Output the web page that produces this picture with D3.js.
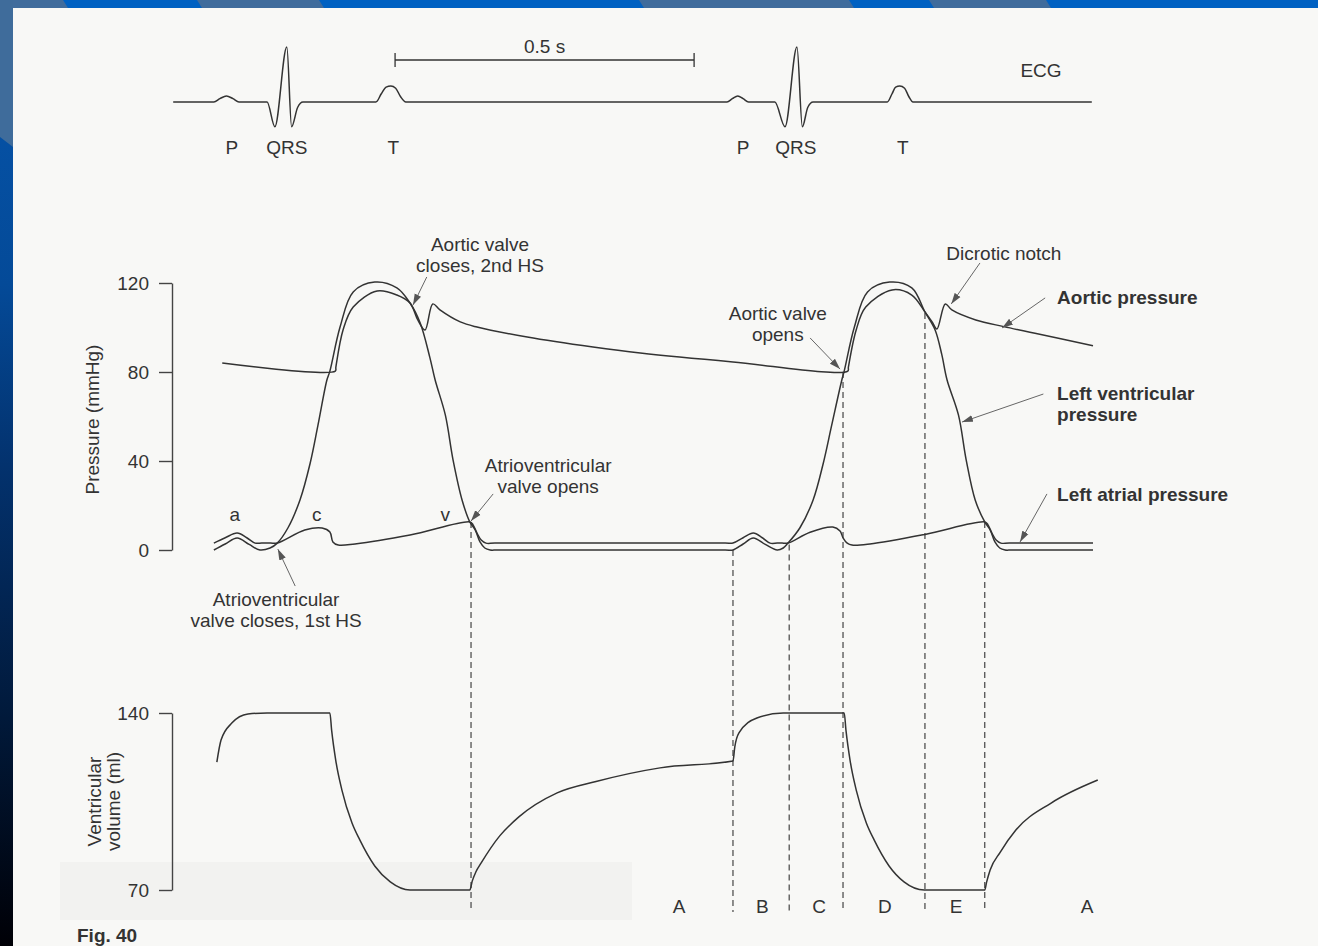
<!DOCTYPE html>
<html>
<head>
<meta charset="utf-8">
<script src="https://d3js.org/d3.v7.min.js"></script>
<style>
  body { margin: 0; background: #f8f8f6; }
  svg { display: block; font-family: "Liberation Sans", Arial, sans-serif; }
</style>
</head>
<body>
<script>
// all times are in ms (0 = pressure axis)

// ECG trace [ms, amplitude (R = 1)]
const ecgTrace = [
  [2, 0], [70, 0], [80, 0.06], [91, 0.11], [102, 0.06], [112, 0], [159, 0],
  [172, -0.45], [192, 1.0], [200, -0.45], [210, -0.1], [219, 0],
  [341, 0], [350, 0.15], [358, 0.27], [366, 0.29], [374, 0.25], [382, 0.1], [391, 0],
  [928, 0], [937, 0.06], [946, 0.11], [955, 0.06], [964, 0], [1008, 0],
  [1025, -0.45], [1045, 1.0], [1054, -0.45], [1063, -0.1], [1072, 0],
  [1196, 0], [1204, 0.15], [1210, 0.27], [1217, 0.29], [1225, 0.25], [1232, 0.1], [1239, 0],
  [1538, 0]
];
const ecgWaves = [["P", 100], ["QRS", 192], ["T", 370], ["P", 955], ["QRS", 1043], ["T", 1222]];
const scaleBar = [373, 873];   // 0.5 s

// pressures [ms, mmHg]
const aorticPressure = [
  [84, 84], [273, 80.4], [274, 82.2], [286, 98.9], [303, 109.2], [343, 116.4], [376, 114.6],
  [398, 111], [411, 103.4], [423, 98.9], [436, 110.6], [448, 107.9], [482, 102.5], [510, 100.2],
  [594, 95.7], [704, 91.2], [783, 88.5], [938, 84.5], [1130, 80.4], [1131, 82.2], [1144, 98.9],
  [1160, 109.2], [1204, 116.9], [1237, 114.6], [1259, 107], [1271, 102.5], [1279, 99.3],
  [1293, 110.6], [1304, 107.9], [1344, 103.4], [1391, 100.4], [1443, 97.4], [1540, 91.8]
];
const ventricularPressure = [
  [70, 0], [89, 2.7], [109, 5.4], [129, 2.5], [147, 0], [164, 0.9], [176, 3.1], [194, 10],
  [214, 22.5], [231, 39], [244, 56], [259, 76.4], [264, 80.4], [281, 100.2], [303, 116],
  [339, 120.4], [376, 117.8], [398, 111], [415, 102], [431, 86.7], [440, 76.4], [457, 60.7],
  [470, 40.4], [485, 22.5], [498, 12.6], [507, 9], [515, 3.6], [523, 0.9], [532, 0], [545, 0],
  [925, 0], [938, 0],
  [955, 2.7], [972, 5.4], [992, 2.5], [1012, 0], [1022, 0.9], [1030, 3.1], [1050, 10],
  [1072, 22.5], [1089, 39], [1103, 56], [1120, 76.4], [1124, 80.4], [1141, 100.2], [1163, 116],
  [1200, 120.4], [1237, 117.8], [1259, 107], [1276, 98.9], [1287, 88], [1296, 76.4],
  [1315, 60.7], [1328, 40.4], [1343, 22.5], [1359, 12.6], [1368, 9], [1376, 3.6], [1384, 0.9],
  [1393, 0], [1405, 0], [1540, 0]
];
const atrialPressure = [
  [70, 3.1], [89, 5.5], [109, 7.6], [125, 5.5], [139, 3.1], [150, 3.1], [165, 3.1], [176, 3.1],
  [222, 9], [251, 9.9], [264, 8.1], [269, 3.6], [278, 2.2], [306, 2.7], [398, 6.7], [498, 12.6],
  [503, 11.5], [510, 7.6], [517, 4.5], [525, 3.1], [540, 3.1], [925, 3.1], [938, 3.1],
  [955, 5.5], [972, 7.6], [987, 5.5],
  [1000, 3.1], [1012, 3.1], [1020, 3.1], [1030, 3.1], [1067, 8], [1105, 10.3], [1117, 8.5],
  [1122, 5.5], [1129, 3.1],
  [1137, 2.2], [1167, 2.7], [1259, 7], [1359, 12.6], [1364, 11.5], [1371, 7.6], [1378, 4.5],
  [1386, 3.1], [1400, 3.1], [1540, 3.1]
];
const pressureTicks = [0, 40, 80, 120];

// ventricular volume [ms, ml]
const ventricularVolume = [
  [75, 120.6], [82, 129.3], [100, 136], [127, 139.6], [159, 140], [264, 140], [267, 133],
  [274, 121], [284, 109.6], [301, 96.5], [314, 89.8], [339, 79.5], [365, 73.2], [398, 70],
  [498, 70], [502, 73.5], [508, 77.1], [517, 80.7], [548, 91.4], [580, 98.9], [644, 108.4],
  [709, 112.9], [816, 118.3], [938, 121], [941, 126.5], [948, 132.1], [978, 138], [1022, 140],
  [1124, 140], [1127, 133], [1134, 121], [1144, 109.6], [1161, 96.5], [1174, 89.8],
  [1199, 79.5], [1224, 73.2], [1258, 70], [1359, 70], [1362, 73], [1368, 77.9], [1385, 85],
  [1411, 93.7], [1470, 104.4], [1548, 113.5]
];
const volumeTicks = [70, 140];

// phase boundaries: time, pressure where the dashed line starts
const phaseLines = [[500, 12.6], [938, 0], [1032, 2.5], [1122, 80], [1259, 106.5], [1359, 12.6]];
const phaseBottom = 61.3; // ml
const phaseLabels = [["A", 848], ["B", 987], ["C", 1082], ["D", 1192], ["E", 1311], ["A", 1530]];

// pressure annotations: text anchor (ms, mmHg), arrow from -> to
const pressureNotes = [
  {lines: ["Aortic valve", "closes, 2nd HS"], at: [515, 134.4], from: [426, 122.7], to: [403, 110.1]},
  {lines: ["Atrioventricular", "valve opens"], at: [629, 35.1], from: [537, 25.2], to: [500, 13.0]},
  {lines: ["Atrioventricular", "valve closes, 1st HS"], at: [174, -25.2], from: [206, -16.2], to: [177, 0.4]},
  {lines: ["Aortic valve", "opens"], at: [1013, 103.4], from: [1067, 95.3], to: [1117, 81.3]},
  {lines: ["Dicrotic notch"], at: [1391, 130.3], from: [1351, 129], to: [1303, 110.6]},
  {lines: ["Aortic pressure"], at: [1480, 110.6], from: [1460, 113.3], to: [1388, 99.8], bold: true},
  {lines: ["Left ventricular", "pressure"], at: [1480, 67.4], from: [1457, 70.1], to: [1321, 57.5], bold: true},
  {lines: ["Left atrial pressure"], at: [1480, 22], from: [1463, 25.2], to: [1418, 3.6], bold: true}
];
const atrialWaves = [["a", 105], ["c", 242], ["v", 457]];

const W = 1318, H = 946;
const ink = "#333", fontSize = 19;

const svg = d3.select("body").append("svg").attr("width", W).attr("height", H);
const defs = svg.append("defs");

// --- slide frame ---
const lg = defs.append("linearGradient").attr("id", "leftGrad").attr("x1", 0).attr("y1", 0).attr("x2", 0).attr("y2", 1);
[[0, "#0656ad"], [0.3, "#044a98"], [0.5, "#03316c"], [0.75, "#011a3c"], [1, "#000006"]]
  .forEach(s => lg.append("stop").attr("offset", s[0]).attr("stop-color", s[1]));
svg.append("rect").attr("width", W).attr("height", H).attr("fill", "#f8f8f6");
svg.append("rect").attr("x", 0).attr("y", 0).attr("width", 13).attr("height", H).attr("fill", "url(#leftGrad)");
svg.append("polygon").attr("points", "0,0 13,0 13,147 0,137").attr("fill", "#3f6c9b");
svg.append("rect").attr("x", 0).attr("y", 0).attr("width", W).attr("height", 8).attr("fill", "#0061c2");
[[0, 63], [197, 319], [639, 849], [929, 1046]].forEach(b => {
  svg.append("polygon")
    .attr("points", `${b[0]},0 ${b[1]},0 ${b[1] + 5},8 ${b[0] + 5},8`)
    .attr("fill", "#406c9c");
});
svg.append("rect").attr("x", 0).attr("y", 0).attr("width", 13).attr("height", 8).attr("fill", "#3f6c9b");
svg.append("rect").attr("x", 60).attr("y", 862).attr("width", 572).attr("height", 58).attr("fill", "#f2f2f0");

defs.append("marker").attr("id", "head")
  .attr("markerUnits", "userSpaceOnUse")
  .attr("markerWidth", 12).attr("markerHeight", 8)
  .attr("refX", 11).attr("refY", 4).attr("orient", "auto")
  .append("path").attr("d", "M0,0.5 L11,4 L0,7.5 Z").attr("fill", "#555");

// --- scales ---
const x = d3.scaleLinear().domain([0, 1540]).range([172, 1093]);
const yEcg = d3.scaleLinear().domain([0, 1]).range([102, 47]);
const yP = d3.scaleLinear().domain([0, 120]).range([550, 283]);
const yV = d3.scaleLinear().domain([70, 140]).range([890, 713]);

function drawTrace(data, ys, curve) {
  const line = d3.line().x(d => x(d[0])).y(d => ys(d[1])).curve(curve);
  svg.append("path").datum(data)
    .attr("fill", "none").attr("stroke", ink).attr("stroke-width", 1.5)
    .attr("stroke-linejoin", "round")
    .attr("d", line);
}

function label(txt, px, py, opts = {}) {
  return svg.append("text").attr("x", px).attr("y", py)
    .attr("text-anchor", opts.anchor || "middle")
    .attr("font-size", fontSize)
    .attr("font-weight", opts.bold ? "bold" : null)
    .attr("fill", ink).text(txt);
}

// --- ECG ---
drawTrace(ecgTrace, yEcg, d3.curveMonotoneX);
ecgWaves.forEach(w => label(w[0], x(w[1]), yEcg(-0.945)));
label("ECG", x(1453), yEcg(0.455));
const barY = yEcg(0.764);
svg.append("path")
  .attr("d", `M${x(scaleBar[0])},${barY - 7}V${barY + 7}M${x(scaleBar[0])},${barY}H${x(scaleBar[1])}M${x(scaleBar[1])},${barY - 7}V${barY + 7}`)
  .attr("stroke", ink).attr("stroke-width", 1.3).attr("fill", "none");
label("0.5 s", x((scaleBar[0] + scaleBar[1]) / 2), yEcg(0.89));

// --- axes ---
function styleAxis(g) {
  g.select(".domain").attr("stroke", "#444").attr("stroke-width", 1.4);
  g.selectAll(".tick line").attr("stroke", "#444").attr("stroke-width", 1.4);
  g.selectAll(".tick text").attr("font-size", fontSize).attr("fill", ink)
    .attr("font-family", "Liberation Sans, Arial, sans-serif");
}
svg.append("g").attr("transform", `translate(${x(0)},0)`)
  .call(d3.axisLeft(yP).tickValues(pressureTicks).tickSize(13).tickSizeOuter(0).tickPadding(10))
  .call(styleAxis);
svg.append("g").attr("transform", `translate(${x(0)},0)`)
  .call(d3.axisLeft(yV).tickValues(volumeTicks).tickSize(13).tickSizeOuter(0).tickPadding(10))
  .call(styleAxis);

svg.append("text").attr("transform", `translate(99,${(yP(0) + yP(120)) / 2 + 3}) rotate(-90)`)
  .attr("text-anchor", "middle").attr("font-size", fontSize).attr("fill", ink).text("Pressure (mmHg)");
svg.append("text").attr("transform", `translate(101,${(yV(70) + yV(140)) / 2}) rotate(-90)`)
  .attr("text-anchor", "middle").attr("font-size", fontSize).attr("fill", ink).text("Ventricular");
svg.append("text").attr("transform", `translate(120,${(yV(70) + yV(140)) / 2}) rotate(-90)`)
  .attr("text-anchor", "middle").attr("font-size", fontSize).attr("fill", ink).text("volume (ml)");

// --- phase lines ---
phaseLines.forEach(p => {
  svg.append("line")
    .attr("x1", x(p[0])).attr("x2", x(p[0]))
    .attr("y1", yP(p[1])).attr("y2", yV(phaseBottom))
    .attr("stroke", "#444").attr("stroke-width", 1.2).attr("stroke-dasharray", "6,4");
});
phaseLabels.forEach(p => label(p[0], x(p[1]), yV(phaseBottom) + 1));

// --- pressure and volume traces ---
const smooth = d3.curveCatmullRom.alpha(0.5);
drawTrace(aorticPressure, yP, smooth);
drawTrace(ventricularPressure, yP, smooth);
drawTrace(atrialPressure, yP, smooth);
drawTrace(ventricularVolume, yV, d3.curveMonotoneX);

atrialWaves.forEach(w => label(w[0], x(w[1]), yP(13)));

pressureNotes.forEach(n => {
  n.lines.forEach((ln, i) => {
    label(ln, x(n.at[0]), yP(n.at[1]) + i * 21, {anchor: n.bold ? "start" : "middle", bold: n.bold});
  });
  svg.append("line")
    .attr("x1", x(n.from[0])).attr("y1", yP(n.from[1]))
    .attr("x2", x(n.to[0])).attr("y2", yP(n.to[1]))
    .attr("stroke", "#666").attr("stroke-width", 1)
    .attr("marker-end", "url(#head)");
});

svg.append("text").attr("x", 77).attr("y", 942).attr("font-size", fontSize)
  .attr("font-weight", "bold").attr("fill", ink).text("Fig. 40");
</script>
</body>
</html>
